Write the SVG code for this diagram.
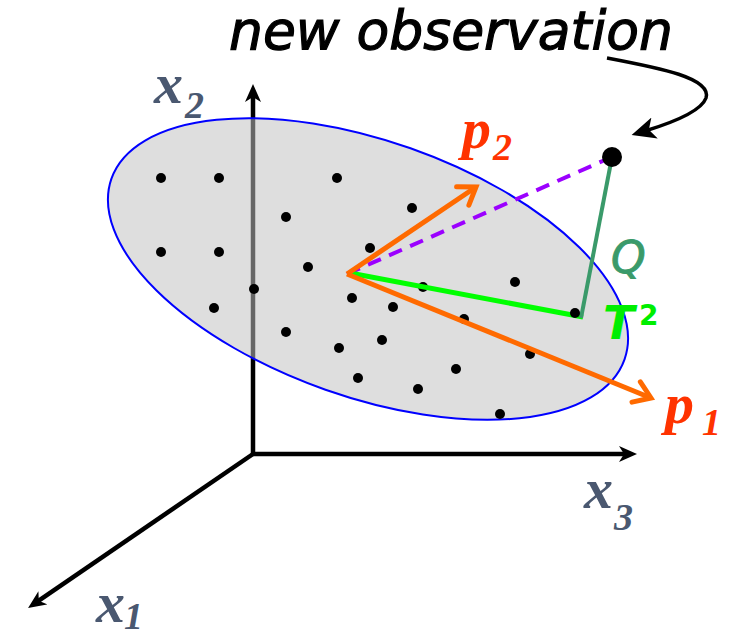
<svg xmlns="http://www.w3.org/2000/svg" width="734" height="636" viewBox="0 0 734 636">
<defs>
<style>
.axis{stroke:#000;stroke-width:4.5;fill:none}
.dot{fill:#000}
.axlab{font-family:'Liberation Serif','Times New Roman',serif;font-weight:bold;font-style:italic;fill:#4a5870}
.plab{font-family:'Liberation Serif','Times New Roman',serif;font-weight:bold;font-style:italic;fill:#ff3300}
.pc{stroke:#ff6a00;stroke-width:5;fill:none}
</style>
<marker id="axhead" viewBox="0 0 18 16" markerWidth="18" markerHeight="16" refX="9" refY="8" orient="auto" markerUnits="userSpaceOnUse">
<path d="M0,0 L18,8 L0,16 L5,8 Z" fill="#000"/>
</marker>
<marker id="chev" viewBox="0 0 24 24" markerWidth="24" markerHeight="24" refX="20" refY="12" orient="auto" markerUnits="userSpaceOnUse" overflow="visible">
<path d="M4,1 L20,12 L4,23" fill="none" stroke="#ff6a00" stroke-width="5" stroke-linecap="round"/>
</marker>
<marker id="obshead" viewBox="0 0 24 22" markerWidth="24" markerHeight="22" refX="10" refY="11" orient="auto" markerUnits="userSpaceOnUse">
<path d="M0,0 L24,11 L0,22 L6,11 Z" fill="#000"/>
</marker>
</defs>
<rect width="734" height="636" fill="#fff"/>
<g id="axes">
<line class="axis" x1="253" y1="456" x2="253" y2="93" marker-end="url(#axhead)"/>
<line class="axis" x1="251" y1="454" x2="628" y2="454" marker-end="url(#axhead)"/>
<line class="axis" x1="253" y1="454" x2="35.5" y2="602.9" marker-end="url(#axhead)"/>
</g>
<g id="cloud">
<ellipse cx="368" cy="269" rx="272" ry="128" transform="rotate(19.4 368 269)" fill="#c0c0c0" fill-opacity="0.53" stroke="#0000ff" stroke-width="2"/>
<g id="dots">
<circle class="dot" cx="161" cy="178" r="5"/><circle class="dot" cx="219" cy="178" r="5"/><circle class="dot" cx="337" cy="178" r="5"/>
<circle class="dot" cx="286" cy="217" r="5"/><circle class="dot" cx="412" cy="208" r="5"/><circle class="dot" cx="370" cy="248" r="5"/>
<circle class="dot" cx="161" cy="252" r="5"/><circle class="dot" cx="219" cy="252" r="5"/><circle class="dot" cx="308" cy="267" r="5"/>
<circle class="dot" cx="254" cy="289" r="5"/><circle class="dot" cx="214" cy="308" r="5"/><circle class="dot" cx="352" cy="298" r="5"/>
<circle class="dot" cx="393" cy="307" r="5"/><circle class="dot" cx="423" cy="287" r="5"/><circle class="dot" cx="515" cy="282" r="5"/>
<circle class="dot" cx="464" cy="319" r="5"/><circle class="dot" cx="286" cy="332" r="5"/><circle class="dot" cx="339" cy="348" r="5"/>
<circle class="dot" cx="382" cy="340" r="5"/><circle class="dot" cx="530" cy="354" r="5"/><circle class="dot" cx="456" cy="369" r="5"/>
<circle class="dot" cx="358" cy="378" r="5"/><circle class="dot" cx="418" cy="389" r="5"/><circle class="dot" cx="500" cy="414" r="5"/>
</g>
</g>
<g id="connectors">
<line x1="347" y1="274" x2="605" y2="160" stroke="#9b00ff" stroke-width="4" stroke-dasharray="14 9"/>
<line x1="350" y1="273" x2="583" y2="317" stroke="#00ff00" stroke-width="5"/>
<line x1="612" y1="157" x2="581" y2="318" stroke="#3a9a6a" stroke-width="4"/>
<polyline class="pc" points="347,274 476,187" marker-end="url(#chev)"/>
<polyline class="pc" points="347,274 651,398" marker-end="url(#chev)"/>
<path d="M607,58 C660,68 712,78 706,98 C701,112 668,124 645,131" fill="none" stroke="#000" stroke-width="3.5" marker-end="url(#obshead)"/>
</g>
<g id="tpoint"><circle class="dot" cx="575" cy="313" r="5"/></g>
<g id="newobs"><circle cx="612" cy="157" r="10" fill="#000"/></g>
<g id="labels">
<text x="229" y="49" font-family="DejaVu Sans, sans-serif" font-style="italic" font-size="54" textLength="444" lengthAdjust="spacingAndGlyphs" fill="#000" stroke="#000" stroke-width="1.2">new observation</text>
<text x="611" y="273" font-family="DejaVu Sans, sans-serif" font-style="italic" font-size="44" fill="#3a9a6a" stroke="#3a9a6a" stroke-width="1">Q</text>
<text x="603" y="339" font-family="DejaVu Sans, sans-serif" font-style="italic" font-weight="bold" font-size="46" fill="#00ee00">T</text>
<text x="639" y="325" font-family="DejaVu Sans, sans-serif" font-weight="bold" font-size="28" fill="#00ee00">2</text>
<text class="plab" x="462" y="148" font-size="58">p</text>
<text class="plab" x="493" y="160" font-size="38">2</text>
<text class="plab" x="665" y="423" font-size="58">p</text>
<text class="plab" x="702" y="435" font-size="38">1</text>
<text class="axlab" x="154" y="103" font-size="58">x</text>
<text class="axlab" x="185" y="118" font-size="38">2</text>
<text class="axlab" x="584" y="508" font-size="58">x</text>
<text class="axlab" x="614" y="530" font-size="38">3</text>
<text class="axlab" x="96" y="622" font-size="58">x</text>
<text class="axlab" x="124" y="629" font-size="38">1</text>
</g>
</svg>
